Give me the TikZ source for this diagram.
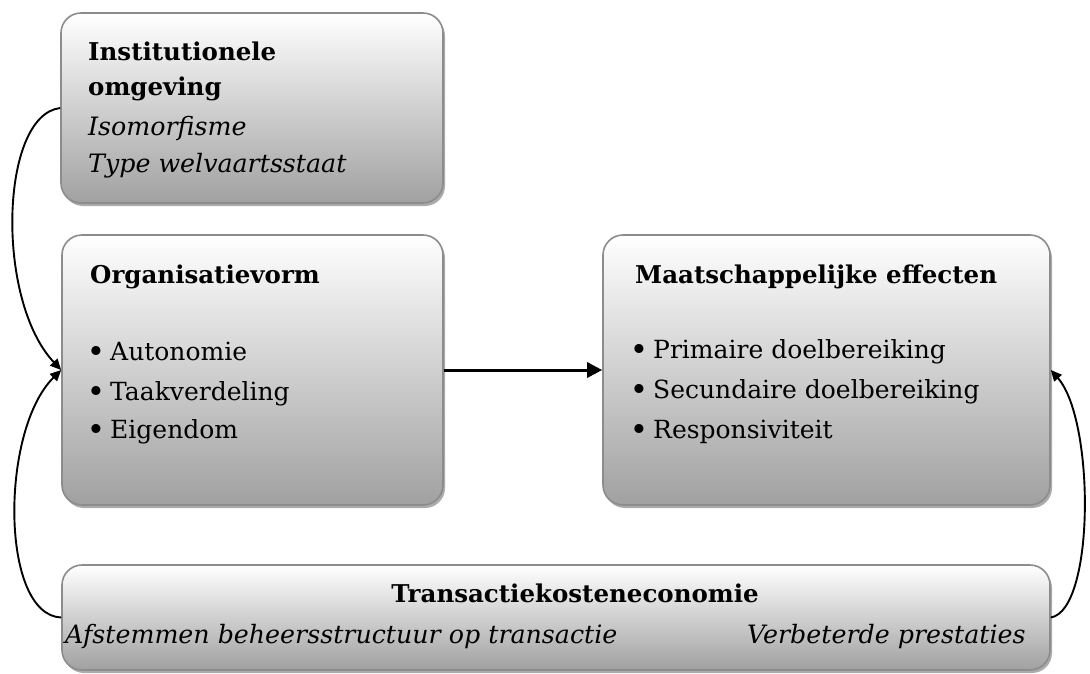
\documentclass[tikz,border=0pt]{standalone}
\usepackage{fontspec}
\setmainfont{DejaVu Serif}
\usetikzlibrary{shadows,arrows.meta}
\newcommand{\bulletmark}{\llap{\raisebox{-2.6pt}{\fontsize{31}{31}\selectfont•}\hspace{5pt}}}
\begin{document}
\begin{tikzpicture}[x=1pt,y=-1pt,
  box/.style={draw=black!45, line width=1.6pt, rounded corners=20pt,
    top color=white, middle color=black!8, bottom color=black!37,
    drop shadow={shadow xshift=2pt, shadow yshift=-3pt, opacity=0.55, fill=black!60},
    inner sep=0pt},
  txt/.style={anchor=base west, inner sep=0pt, font=\fontsize{25}{30}\selectfont},
  ttl/.style={txt, font=\fontsize{24.5}{30}\selectfont\bfseries},
  itl/.style={txt, font=\fontsize{25.3}{30}\selectfont\itshape},
  bul/.style={txt},
  conn/.style={line width=1.9pt, -{Triangle[length=11pt,width=10pt]}},
  mainarr/.style={line width=3pt, -{Triangle[length=15pt,width=15pt]}}
]
\useasboundingbox (0,0) rectangle (1090,673);
\node[box, minimum width=382pt, minimum height=190pt] (b1) at (252,108) {};
\node[box, minimum width=381pt, minimum height=270pt] (b2) at (252.5,370) {};
\node[box, minimum width=447pt, minimum height=270pt] (b3) at (826.5,370) {};
\node[box, minimum width=988pt, minimum height=105pt] (b4) at (556,617.5) {};

\node[ttl] (b1a) at (88,60) {Institutionele};
\node[ttl] (b1b) at (88,95) {omgeving};
\node[itl] (b1c) at (88,135) {Isomorfisme};
\node[itl] (b1d) at (88,172) {Type welvaartsstaat};

\node[ttl] (b2a) at (90,283) {Organisatievorm};
\node[bul] (b2b) at (110,360) {\bulletmark Autonomie};
\node[bul] (b2c) at (110,400) {\bulletmark Taakverdeling};
\node[bul] (b2d) at (110,438) {\bulletmark Eigendom};

\node[ttl] (b3a) at (635,283) {Maatschappelijke effecten};
\node[bul] (b3b) at (653,358) {\bulletmark Primaire doelbereiking};
\node[bul] (b3c) at (653,398) {\bulletmark Secundaire doelbereiking};
\node[bul] (b3d) at (653,438) {\bulletmark Responsiviteit};

\node[ttl, anchor=base] (b4a) at (575,602) {Transactiekosteneconomie};
\node[itl] (b4b) at (65,643) {Afstemmen beheersstructuur op transactie};
\node[itl] (b4c) at (747,643) {Verbeterde prestaties};

\draw[mainarr] (b2.east) -- (b3.west);
\draw[conn] (b1.west) .. controls (0,115) and (-5,300) .. (b2.west);
\draw[conn] (b4.west) .. controls (0,615) and (0,430) .. (b2.west);
\draw[conn] (b4.east) .. controls (1095,610) and (1095,420) .. (b3.east);
\end{tikzpicture}
\end{document}
